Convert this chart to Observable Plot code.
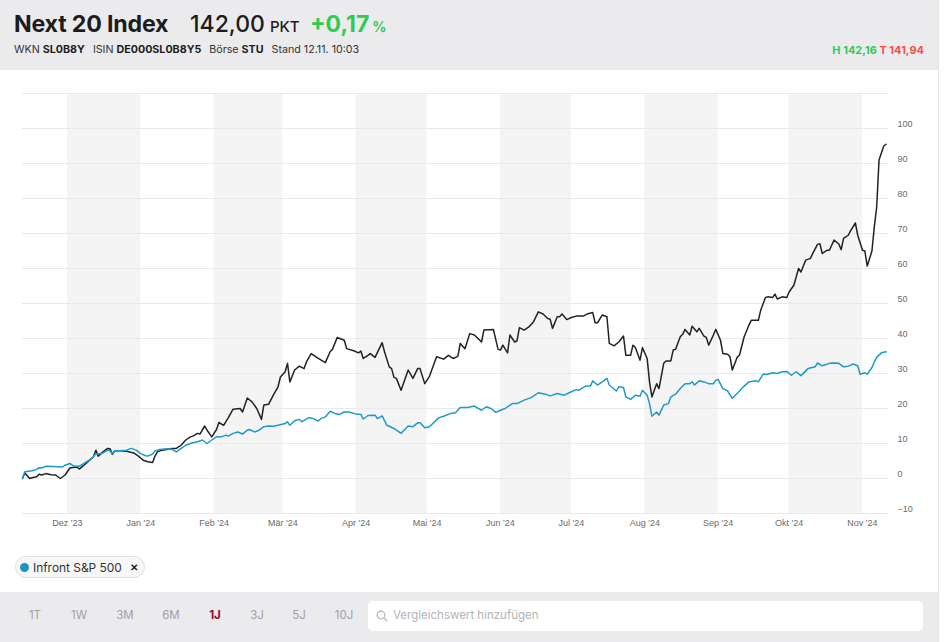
<!DOCTYPE html>
<html>
<head>
<meta charset="utf-8">
<script src="https://cdn.jsdelivr.net/npm/d3@7"></script>
<script src="https://cdn.jsdelivr.net/npm/@observablehq/plot@0.6"></script>
<style>
  html, body { margin: 0; padding: 0; background: #fff; width: 945px; height: 642px; overflow: hidden; font-family: Inter, "Noto Sans", sans-serif; }
  #page { position: relative; width: 945px; height: 642px; }
  #header { position: absolute; left: 0; top: 0; width: 938px; height: 70px; background: #ebebee; }
  .abs { position: absolute; white-space: nowrap; }
  #title { left: 14px; top: 10px; font-size: 23.2px; font-weight: 700; color: #1c1c1c; letter-spacing: -0.2px; }
  #price { left: 190px; top: 10px; font-size: 23px; font-weight: 500; color: #1c1c1c; }
  #price .unit { font-size: 15px; font-weight: 500; margin-left: 5px; }
  #chg { left: 310px; top: 10px; font-size: 23px; font-weight: 700; color: #2fcb55; }
  #chg .unit { font-size: 14px; margin-left: 3px; }
  #meta { left: 14px; top: 43px; font-size: 10.7px; color: #333; }
  #meta b { font-weight: 700; color: #1c1c1c; }
  #meta span { margin-right: 8px; }
  #hl { right: 14px; top: 43px; font-size: 11px; font-weight: 700; }
  #chart { position: absolute; left: 0; top: 70px; }
  #edge { position: absolute; left: 938px; top: 0; width: 1px; height: 642px; background: #e4e4e6; }
  #legend { position: absolute; left: 15px; top: 556px; height: 20px; padding: 0 6px 0 4px; border: 1px solid #e2e2e4; border-radius: 11px; background: #f7f7f8; display: flex; align-items: center; font-size: 11.9px; color: #333; }
  #legend .dot { width: 9px; height: 9px; border-radius: 50%; background: #1a94c4; margin-right: 4px; }
  #legend .x { margin-left: 8px; font-size: 10px; color: #222; font-weight: 700; }
  #bottom { position: absolute; left: 0; top: 592px; width: 938px; height: 50px; background: #ebebee; }
  .btn { position: absolute; top: 16px; font-size: 11.5px; color: #a0a0a4; transform: translateX(-50%); }
  .btn.active { color: #8c0b2b; font-weight: 700; }
  #search { position: absolute; left: 368px; top: 9px; width: 555px; height: 30px; background: #fff; border-radius: 5px; }
  #search .ph { position: absolute; left: 25px; top: 7px; font-size: 11.5px; color: #b3b3b6; }
  #search svg { position: absolute; left: 8px; top: 9px; }
</style>
</head>
<body>
<div id="page">
  <div id="header">
    <div class="abs" id="title">Next 20 Index</div>
    <div class="abs" id="price">142,00<span class="unit">PKT</span></div>
    <div class="abs" id="chg">+0,17<span class="unit">%</span></div>
    <div class="abs" id="meta"><span>WKN <b>SL0B8Y</b></span><span>ISIN <b>DE000SL0B8Y5</b></span><span>Börse <b>STU</b></span><span>Stand 12.11. 10:03</span></div>
    <div class="abs" id="hl"><span style="color:#2fcb55">H 142,16</span> <span style="color:#ff4a4a">T 141,94</span></div>
  </div>
  <div id="chart"></div>
  <div id="edge"></div>
  <div id="legend"><div class="dot"></div>Infront S&amp;P 500<span class="x">✕</span></div>
  <div id="bottom">
    <div id="buttons"></div>
    <div id="search">
      <svg width="12" height="12" viewBox="0 0 12 12"><circle cx="5" cy="5" r="3.8" fill="none" stroke="#b3b3b6" stroke-width="1.2"/><line x1="7.8" y1="7.8" x2="11" y2="11" stroke="#b3b3b6" stroke-width="1.2"/></svg>
      <div class="ph">Vergleichswert hinzufügen</div>
    </div>
  </div>
</div>
<script>
// ---- Data (percent performance) ----
const next20Series = [
  ["2023-11-12",0.0],["2023-11-13",1.6],["2023-11-15",0.0],["2023-11-16",0.2],["2023-11-18",0.5],["2023-11-19",1.2],
  ["2023-11-20",1.0],["2023-11-22",1.4],["2023-11-24",1.1],["2023-11-26",1.0],["2023-11-28",0.0],["2023-11-30",1.0],
  ["2023-12-02",3.0],["2023-12-04",3.2],["2023-12-05",3.3],["2023-12-06",2.7],["2023-12-08",3.8],["2023-12-10",5.0],
  ["2023-12-12",6.2],["2023-12-13",8.1],["2023-12-14",6.4],["2023-12-16",7.6],["2023-12-18",8.6],["2023-12-19",8.5],
  ["2023-12-20",6.9],["2023-12-21",7.9],["2023-12-23",7.9],["2023-12-26",7.8],["2023-12-29",7.3],["2023-12-31",6.4],
  ["2024-01-02",5.2],["2024-01-04",4.8],["2024-01-06",4.6],["2024-01-07",6.4],["2024-01-08",7.6],["2024-01-10",8.1],
  ["2024-01-12",8.3],["2024-01-14",8.6],["2024-01-16",8.6],["2024-01-18",9.5],["2024-01-20",11.0],["2024-01-22",11.9],
  ["2024-01-23",12.1],["2024-01-25",12.9],["2024-01-26",12.7],["2024-01-28",15.0],["2024-01-29",13.8],["2024-01-31",11.9],
  ["2024-02-02",14.0],["2024-02-03",16.0],["2024-02-05",15.2],["2024-02-07",17.4],["2024-02-09",19.8],["2024-02-12",20.0],
  ["2024-02-13",19.0],["2024-02-14",21.0],["2024-02-15",23.0],["2024-02-17",21.9],["2024-02-19",20.0],["2024-02-21",16.9],
  ["2024-02-22",21.0],["2024-02-24",21.2],["2024-02-26",23.8],["2024-02-28",26.2],["2024-02-29",29.0],["2024-03-02",30.5],
  ["2024-03-03",32.9],["2024-03-04",27.6],["2024-03-06",31.0],["2024-03-08",32.1],["2024-03-10",31.4],["2024-03-11",33.3],
  ["2024-03-13",35.7],["2024-03-16",34.3],["2024-03-19",33.1],["2024-03-21",36.2],["2024-03-22",36.9],["2024-03-24",40.3],
  ["2024-03-27",39.5],["2024-03-28",37.1],["2024-03-31",36.5],["2024-04-02",35.9],["2024-04-03",36.4],["2024-04-04",34.3],
  ["2024-04-06",35.2],["2024-04-07",35.7],["2024-04-09",34.6],["2024-04-12",38.8],["2024-04-13",36.2],["2024-04-15",31.9],
  ["2024-04-16",31.4],["2024-04-17",28.9],["2024-04-18",28.6],["2024-04-20",25.2],["2024-04-23",31.0],["2024-04-25",28.6],
  ["2024-04-27",31.4],["2024-04-28",31.4],["2024-04-30",27.1],["2024-05-02",29.2],["2024-05-05",34.8],["2024-05-08",34.1],
  ["2024-05-10",35.2],["2024-05-12",34.3],["2024-05-14",34.9],["2024-05-15",38.6],["2024-05-17",37.1],["2024-05-19",41.4],
  ["2024-05-21",41.0],["2024-05-24",39.0],["2024-05-25",42.4],["2024-05-29",42.6],["2024-05-31",36.9],["2024-06-01",36.7],
  ["2024-06-02",38.1],["2024-06-04",35.9],["2024-06-05",41.0],["2024-06-07",39.0],["2024-06-08",39.3],["2024-06-09",43.1],
  ["2024-06-11",42.4],["2024-06-13",43.3],["2024-06-15",44.8],["2024-06-17",47.6],["2024-06-19",47.0],["2024-06-21",45.7],
  ["2024-06-22",45.5],["2024-06-23",42.9],["2024-06-25",46.2],["2024-06-26",46.2],["2024-06-27",47.0],["2024-06-29",45.4],
  ["2024-07-01",46.0],["2024-07-03",46.4],["2024-07-06",46.4],["2024-07-08",47.1],["2024-07-10",47.4],["2024-07-11",44.5],
  ["2024-07-12",44.5],["2024-07-14",46.7],["2024-07-16",46.2],["2024-07-17",38.6],["2024-07-19",37.9],["2024-07-21",39.0],
  ["2024-07-23",40.7],["2024-07-24",35.2],["2024-07-26",35.2],["2024-07-27",38.1],["2024-07-28",37.4],["2024-07-30",33.8],
  ["2024-07-31",37.4],["2024-08-02",34.3],["2024-08-03",27.6],["2024-08-04",23.3],["2024-08-06",27.1],["2024-08-07",25.7],
  ["2024-08-09",32.9],["2024-08-10",33.6],["2024-08-12",33.6],["2024-08-13",36.7],["2024-08-14",36.9],["2024-08-16",40.5],
  ["2024-08-17",41.2],["2024-08-18",42.6],["2024-08-20",41.0],["2024-08-21",43.5],["2024-08-23",41.9],["2024-08-24",42.9],
  ["2024-08-26",40.7],["2024-08-27",40.3],["2024-08-28",38.1],["2024-08-30",41.0],["2024-08-31",42.6],["2024-09-02",39.5],
  ["2024-09-03",35.7],["2024-09-05",35.5],["2024-09-06",34.8],["2024-09-07",31.0],["2024-09-09",34.6],["2024-09-10",35.2],
  ["2024-09-12",40.5],["2024-09-14",43.8],["2024-09-15",45.2],["2024-09-18",45.2],["2024-09-19",48.1],["2024-09-21",51.7],
  ["2024-09-22",51.9],["2024-09-24",51.7],["2024-09-25",52.7],["2024-09-26",51.3],["2024-09-28",51.9],["2024-09-30",51.7],
  ["2024-10-01",53.3],["2024-10-03",55.2],["2024-10-05",60.0],["2024-10-06",59.0],["2024-10-08",62.4],["2024-10-10",62.9],
  ["2024-10-11",64.3],["2024-10-13",66.9],["2024-10-14",67.1],["2024-10-15",64.3],["2024-10-17",65.2],["2024-10-18",65.2],
  ["2024-10-20",68.1],["2024-10-22",67.0],["2024-10-23",65.4],["2024-10-24",68.6],["2024-10-26",69.5],["2024-10-27",70.8],
  ["2024-10-29",73.0],["2024-10-30",69.5],["2024-11-01",65.2],["2024-11-02",65.0],["2024-11-03",60.7],["2024-11-05",65.0],
  ["2024-11-06",71.9],["2024-11-07",77.5],["2024-11-08",91.0],["2024-11-10",95.0],["2024-11-11",95.5]
];
const spSeries = [
  ["2023-11-12",0.0],["2023-11-13",1.9],["2023-11-16",2.2],["2023-11-18",2.6],["2023-11-19",3.1],["2023-11-20",3.0],
  ["2023-11-22",3.5],["2023-11-25",3.4],["2023-11-29",3.3],["2023-11-30",3.8],["2023-12-02",4.3],["2023-12-03",3.8],
  ["2023-12-04",3.6],["2023-12-06",3.5],["2023-12-08",4.3],["2023-12-10",5.2],["2023-12-12",6.2],["2023-12-13",7.1],
  ["2023-12-14",7.0],["2023-12-16",7.3],["2023-12-18",8.1],["2023-12-19",7.9],["2023-12-20",7.0],["2023-12-21",7.9],
  ["2023-12-23",7.9],["2023-12-26",8.1],["2023-12-28",8.6],["2023-12-30",8.1],["2024-01-01",7.1],["2024-01-03",6.5],
  ["2024-01-04",6.4],["2024-01-06",7.0],["2024-01-07",7.9],["2024-01-09",8.3],["2024-01-12",8.5],["2024-01-14",8.4],
  ["2024-01-16",7.6],["2024-01-18",8.6],["2024-01-20",9.5],["2024-01-22",10.0],["2024-01-23",10.2],["2024-01-25",10.5],
  ["2024-01-27",11.0],["2024-01-29",10.0],["2024-01-31",11.0],["2024-02-02",11.9],["2024-02-04",11.9],["2024-02-06",12.4],
  ["2024-02-07",12.1],["2024-02-09",12.9],["2024-02-11",13.3],["2024-02-13",12.7],["2024-02-15",13.8],["2024-02-16",14.0],
  ["2024-02-18",13.3],["2024-02-20",13.8],["2024-02-22",14.8],["2024-02-24",15.0],["2024-02-26",14.9],["2024-02-28",15.2],
  ["2024-03-02",15.7],["2024-03-03",16.2],["2024-03-04",15.2],["2024-03-06",16.5],["2024-03-08",16.9],["2024-03-09",16.2],
  ["2024-03-12",17.4],["2024-03-14",17.1],["2024-03-16",16.4],["2024-03-17",17.1],["2024-03-19",17.6],["2024-03-21",19.2],
  ["2024-03-23",18.6],["2024-03-25",18.3],["2024-03-27",19.0],["2024-03-29",19.0],["2024-04-01",18.4],["2024-04-03",18.3],
  ["2024-04-04",17.0],["2024-04-06",18.0],["2024-04-09",18.1],["2024-04-10",17.1],["2024-04-12",17.9],["2024-04-14",15.2],
  ["2024-04-17",14.3],["2024-04-20",12.9],["2024-04-23",15.0],["2024-04-25",14.8],["2024-04-27",15.9],["2024-04-28",15.9],
  ["2024-04-30",14.5],["2024-05-02",14.8],["2024-05-06",17.4],["2024-05-08",17.8],["2024-05-11",18.6],["2024-05-13",18.8],
  ["2024-05-15",20.3],["2024-05-18",20.3],["2024-05-21",20.7],["2024-05-24",19.5],["2024-05-26",20.5],["2024-05-28",20.0],
  ["2024-05-30",18.9],["2024-06-01",19.5],["2024-06-03",20.0],["2024-06-06",21.4],["2024-06-08",21.4],["2024-06-11",22.4],
  ["2024-06-14",23.1],["2024-06-17",24.5],["2024-06-20",24.1],["2024-06-22",23.6],["2024-06-25",24.3],["2024-06-28",23.8],
  ["2024-06-30",24.5],["2024-07-03",25.4],["2024-07-04",25.2],["2024-07-07",26.4],["2024-07-09",26.4],["2024-07-10",27.9],
  ["2024-07-12",26.7],["2024-07-14",27.6],["2024-07-16",28.6],["2024-07-17",26.7],["2024-07-20",25.0],["2024-07-21",26.2],
  ["2024-07-23",26.0],["2024-07-24",23.3],["2024-07-26",22.6],["2024-07-28",23.8],["2024-07-30",23.5],["2024-07-31",25.2],
  ["2024-08-02",23.8],["2024-08-03",21.4],["2024-08-04",17.8],["2024-08-06",19.0],["2024-08-07",18.1],["2024-08-09",21.0],
  ["2024-08-11",21.4],["2024-08-12",23.3],["2024-08-14",24.1],["2024-08-16",25.7],["2024-08-18",27.1],["2024-08-20",27.1],
  ["2024-08-21",27.6],["2024-08-22",26.7],["2024-08-24",27.9],["2024-08-26",27.6],["2024-08-28",27.1],["2024-08-30",27.1],
  ["2024-08-31",28.1],["2024-09-01",28.3],["2024-09-03",25.7],["2024-09-05",25.0],["2024-09-07",22.9],["2024-09-09",24.3],
  ["2024-09-10",25.0],["2024-09-12",26.4],["2024-09-14",27.6],["2024-09-17",27.9],["2024-09-18",27.6],["2024-09-20",29.8],
  ["2024-09-22",29.8],["2024-09-24",30.2],["2024-09-26",30.0],["2024-09-28",30.5],["2024-09-30",30.6],["2024-10-02",29.5],
  ["2024-10-04",30.5],["2024-10-06",29.4],["2024-10-09",31.4],["2024-10-12",31.9],["2024-10-13",33.0],["2024-10-15",32.2],
  ["2024-10-18",32.9],["2024-10-20",33.0],["2024-10-22",32.9],["2024-10-24",31.9],["2024-10-26",32.1],["2024-10-28",32.7],
  ["2024-10-30",32.2],["2024-10-31",29.8],["2024-11-02",30.2],["2024-11-03",29.8],["2024-11-05",31.7],["2024-11-06",33.3],
  ["2024-11-07",34.6],["2024-11-09",35.9],["2024-11-11",36.2]
];
const monthTicks = ["2023-12-01","2024-01-01","2024-02-01","2024-03-01","2024-04-01","2024-05-01","2024-06-01","2024-07-01","2024-08-01","2024-09-01","2024-10-01","2024-11-01"];
const monthNames = ["Jan","Feb","Mär","Apr","Mai","Jun","Jul","Aug","Sep","Okt","Nov","Dez"];
const shadedMonths = [["2023-12-01","2024-01-01"],["2024-02-01","2024-03-01"],["2024-04-01","2024-05-01"],["2024-06-01","2024-07-01"],["2024-08-01","2024-09-01"],["2024-10-01","2024-11-01"]];
const yTicks = [-10,0,10,20,30,40,50,60,70,80,90,100];
const yGrid = [-10,0,10,20,30,40,50,60,70,80,90,100,110];
const xDomain = ["2023-11-12","2024-11-12"];
const rangeButtons = ["1T","1W","3M","6M","1J","3J","5J","10J"];
const activeRange = "1J";

// ---- build ----
const P = d3.utcParse("%Y-%m-%d");
const toRows = (arr, name) => arr.map(([d, v]) => ({date: P(d), value: v, name}));
const black = toRows(next20Series, "Next 20 Index");
const blue = toRows(spSeries, "Infront S&P 500");
const bands = shadedMonths.map(([a, b]) => ({start: P(a), end: P(b)}));
const ticks = monthTicks.map(P);
const fmt = d => monthNames[d.getUTCMonth()] + " '" + String(d.getUTCFullYear()).slice(2);

const chart = Plot.plot({
  width: 945,
  height: 475,
  marginLeft: 22,
  marginRight: 57,
  marginTop: 23,
  marginBottom: 32,
  style: {fontFamily: "'Liberation Sans', Arial, sans-serif", background: "transparent", overflow: "visible"},
  x: {type: "utc", domain: xDomain.map(P)},
  y: {domain: [-10, 110]},
  marks: [
    Plot.rect(bands, {x1: "start", x2: "end", y1: -10, y2: 110, fill: "#f4f4f5"}),
    Plot.ruleY(yGrid, {stroke: "#e9e9eb", strokeWidth: 1}),
    Plot.axisX(ticks, {tickSize: 0, tickPadding: 6, tickFormat: fmt, fontSize: 9, fill: "#6a6a6a", label: null}),
    Plot.axisY(yTicks, {anchor: "right", tickSize: 0, tickPadding: 9, dy: -4, fontSize: 9, fill: "#6a6a6a", label: null}),
    Plot.line(black, {x: "date", y: "value", stroke: "#222", strokeWidth: 1.5, curve: "linear"}),
    Plot.line(blue, {x: "date", y: "value", stroke: "#1f9ac4", strokeWidth: 1.5, curve: "linear"})
  ]
});
document.getElementById("chart").appendChild(chart);

// range buttons
const btnX = [35, 79, 125, 171, 215, 257, 299, 344];
const bc = document.getElementById("buttons");
rangeButtons.forEach((t, i) => {
  const el = document.createElement("div");
  el.className = "btn" + (t === activeRange ? " active" : "");
  el.style.left = btnX[i] + "px";
  el.textContent = t;
  bc.appendChild(el);
});
</script>
</body>
</html>
